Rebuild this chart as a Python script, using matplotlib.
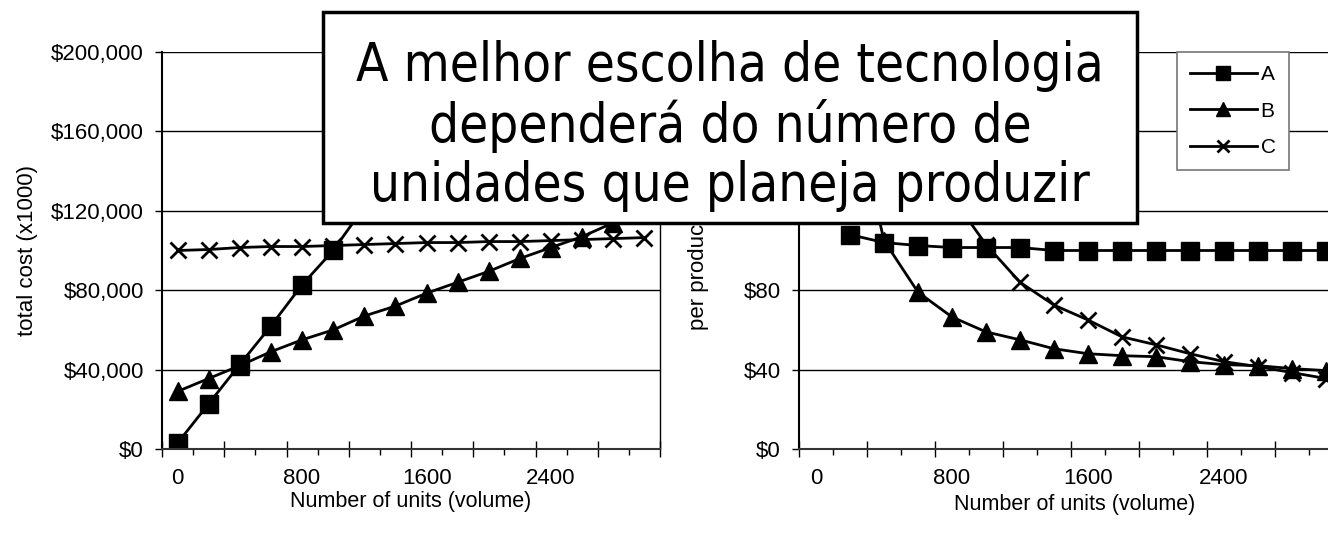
import matplotlib.pyplot as plt
import matplotlib.patches as patches
from matplotlib.ticker import FixedLocator, StrMethodFormatter
import numpy as np

# volume categories (units)
units = [0, 200, 400, 600, 800, 1000, 1200, 1400, 1600, 1800, 2000, 2200, 2400, 2600, 2800, 3000]

# total cost ($)
total_a = [3000, 22800, 42600, 62000, 82700, 100000, 122000, 142000, 162000, 182000,
           202000, 222000, 242000, 262000, 282000, 302000]
total_b = [29000, 35500, 42000, 49000, 55000, 60000, 67000, 72000, 78500, 84000,
           89500, 96000, 101500, 107000, 114000, 120000]
total_c = [100000, 100500, 101500, 102000, 102000, 102500, 103000, 103500, 104000, 104000,
           104500, 104500, 105000, 105500, 106000, 106500]

# cost per product ($), undefined at 0 units
unit_a = [np.nan, 108, 104, 102.5, 101.5, 101.5, 101.5, 100, 100, 100, 100, 100, 100, 100, 100, 100]
unit_b = [np.nan, 180, 105, 79, 66.5, 59, 55, 50.5, 48, 47, 46.5, 44, 42.5, 42, 40.5, 39.5]
unit_c = [np.nan, 500, 252, 168, 127, 103, 84, 72.5, 65, 56.5, 52.5, 48, 44, 41.5, 38.5, 35.5]

series_labels = ['A', 'B', 'C']
x_labels = [0, 800, 1600, 2400]
message = "A melhor escolha de tecnologia\ndependerá do número de\nunidades que planeja produzir"

plt.rcParams['font.family'] = ['Liberation Sans', 'DejaVu Sans']

W, H = 1328, 533
fig = plt.figure(figsize=(W / 100, H / 100), dpi=100)


def px_box(x0, y0, x1, y1):
    return [x0 / W, 1 - y1 / H, (x1 - x0) / W, (y1 - y0) / H]


ax1 = fig.add_axes(px_box(162, 52, 660, 449))
ax2 = fig.add_axes(px_box(799, 52, 1343, 449))

styles = [
    dict(marker='s', ms=13),
    dict(marker='^', ms=13),
    dict(marker='x', ms=12, mew=2),
]


def style_axes(ax, ymax, ystep, fmt, ylabel):
    ax.set_xlim(-100, 3100)
    ax.set_ylim(0, ymax)
    ax.set_yticks(np.arange(0, ymax + 1, ystep))
    ax.yaxis.set_major_formatter(StrMethodFormatter(fmt))
    ax.yaxis.grid(True, color='black', lw=1.0)
    ax.set_axisbelow(True)
    ax.tick_params(axis='y', direction='out', length=5, width=1, pad=8, labelsize=16)

    # labels at category centres, no marks
    ax.set_xticks(x_labels)
    ax.tick_params(axis='x', which='major', length=0, pad=14, labelsize=16)
    # short outward marks on odd category boundaries
    ax.xaxis.set_minor_locator(FixedLocator(np.arange(100, 3100, 400)))
    ax.tick_params(axis='x', which='minor', direction='out', length=4, width=1)
    # crossing marks on even boundaries
    sec = ax.secondary_xaxis('bottom')
    sec.set_xticks(np.arange(-100, 3101, 400))
    sec.tick_params(axis='x', direction='inout', length=11, width=1, labelbottom=False)
    sec.spines['bottom'].set_visible(False)

    ax.spines['top'].set_visible(False)
    ax.spines['left'].set_linewidth(1.5)
    ax.spines['bottom'].set_linewidth(1.5)
    ax.spines['bottom'].set_color('#333333')
    ax.spines['right'].set_linewidth(1.0)
    ax.set_xlabel('Number of units (volume)', fontsize=15.5)
    ax.set_ylabel(ylabel, fontsize=16)


for vals, st, lab in zip([total_a, total_b, total_c], styles, series_labels):
    ax1.plot(units, vals, color='black', lw=2, label=lab, **st)
style_axes(ax1, 200000, 40000, '${x:,.0f}', 'total cost (x1000)')
ax1.yaxis.set_label_coords(-0.25, 0.5)
ax1.xaxis.set_label_coords(0.5, -0.105)

lines = []
for vals, st, lab in zip([unit_a, unit_b, unit_c], styles, series_labels):
    ln, = ax2.plot(units, vals, color='black', lw=2, label=lab, **st)
    lines.append(ln)
style_axes(ax2, 200, 40, '${x:,.0f}', 'per product cost')
ax2.yaxis.set_label_coords(-0.165, 0.5)
ax2.xaxis.set_label_coords((1075 - 799) / (1343 - 799), -0.113)

leg = ax2.legend(handles=lines, loc='upper left',
                 bbox_to_anchor=(1177 / W, 1 - 52 / H), bbox_transform=fig.transFigure,
                 borderaxespad=0, fontsize=15, frameon=True, fancybox=False, framealpha=1,
                 edgecolor='#777777', handlelength=3.2, handletextpad=0.2,
                 labelspacing=0.85, borderpad=0.62, markerscale=0.75)
leg.get_frame().set_linewidth(1.2)

# message box over both charts
fig.patches.append(patches.Rectangle(
    (323 / W, 1 - 223 / H), (1137 - 323) / W, (223 - 12) / H,
    transform=fig.transFigure, facecolor='white', edgecolor='black', lw=2.5, zorder=5
))
fig.text(730 / W, 1 - 126 / H, message, ha='center', va='center',
         fontsize=38, family='DejaVu Sans', fontstretch='condensed',
         linespacing=1.17, zorder=6)

fig.savefig('out.png', dpi=100)
